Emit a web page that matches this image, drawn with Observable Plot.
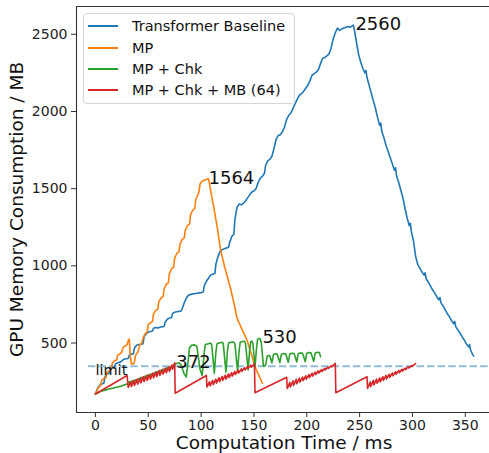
<!DOCTYPE html>
<html><head><meta charset="utf-8">
<script src="https://cdn.jsdelivr.net/npm/d3@7"></script>
<script src="https://cdn.jsdelivr.net/npm/@observablehq/plot@0.6"></script>
<style>
body{margin:0;background:#fff;}
#wrap{position:relative;width:489px;height:453px;font-family:"DejaVu Sans",sans-serif;overflow:hidden;}
#wrap svg{display:block;}
#legend{position:absolute;left:83px;top:13px;width:212px;height:91px;box-sizing:border-box;border:1px solid #d6d6d6;border-radius:4px;background:rgba(255,255,255,0.85);}
.lrow{position:absolute;left:0;height:0;}
.lline{position:absolute;left:4px;width:30px;height:2px;top:-1px;}
.ltext{position:absolute;left:48px;top:-9px;font-size:14.5px;line-height:18px;color:#111;white-space:nowrap;}
</style>
</head><body>
<div id="wrap"><div id="legend"></div></div>
<script>
// ---- data (time in ms, memory in MB) ----
const seriesNames = ["Transformer Baseline", "MP", "MP + Chk", "MP + Chk + MB (64)"];
const seriesColors = ["#1f77b4", "#ff7f0e", "#2ca02c", "#d62728"];

const baseline = [[0,170],[2,205],[4,225],[6,235],[8,240],[9,280],[11,300],[13,305],[14,340],[16,345],[18,340],[19,365],[21,372],[24,378],[27,395],[29,398],[31,400],[32,420],[34,428],[36,430],[37,470],[39,485],[41,490],[43,492],[45,495],[46,540],[48,560],[50,570],[52,575],[54,578],[55,595],[57,600],[59,598],[61,602],[63,605],[65,607],[66,635],[68,655],[70,660],[72,665],[73,690],[75,700],[77,703],[79,705],[81,708],[82,720],[84,760],[86,790],[88,810],[90,815],[92,818],[94,820],[96,822],[98,825],[100,826],[102,830],[103,870],[105,900],[107,920],[109,940],[111,945],[113,950],[114,1010],[116,1060],[118,1095],[120,1105],[122,1110],[124,1115],[126,1120],[127,1150],[129,1190],[131,1205],[132,1300],[134,1380],[136,1400],[138,1395],[140,1405],[142,1420],[144,1440],[146,1460],[148,1478],[150,1485],[152,1500],[154,1540],[156,1568],[158,1580],[160,1600],[161,1650],[163,1680],[165,1690],[167,1710],[169,1760],[171,1820],[173,1845],[175,1850],[177,1870],[179,1900],[181,1950],[183,1975],[185,1990],[187,2020],[189,2050],[191,2080],[193,2105],[195,2115],[197,2130],[199,2150],[201,2170],[203,2200],[205,2235],[207,2245],[209,2255],[211,2270],[213,2310],[215,2345],[217,2350],[219,2360],[221,2372],[223,2410],[225,2470],[227,2510],[229,2540],[231,2525],[233,2535],[235,2540],[237,2545],[239,2550],[241,2545],[243,2555],[244,2560],[245,2530],[247,2450],[249,2370],[251,2320],[253,2280],[255,2250],[256,2265],[257,2220],[259,2170],[261,2120],[263,2070],[265,2020],[267,1960],[269,1910],[270,1925],[271,1870],[273,1830],[275,1780],[277,1740],[279,1700],[281,1660],[283,1620],[284,1635],[285,1580],[287,1540],[289,1490],[291,1440],[293,1370],[295,1310],[297,1260],[298,1275],[299,1220],[301,1160],[303,1060],[305,1010],[307,985],[309,960],[311,940],[312,955],[313,915],[315,895],[317,870],[319,845],[321,825],[323,800],[325,780],[326,795],[327,760],[329,740],[331,715],[333,690],[335,670],[337,645],[339,625],[340,640],[341,605],[343,585],[345,565],[347,540],[349,520],[351,495],[353,475],[354,490],[355,455],[357,425],[358,415]];

const mp = [[0,170],[2,200],[3,215],[5,225],[6,260],[8,270],[10,275],[11,310],[13,320],[15,330],[16,370],[18,385],[20,390],[21,420],[23,430],[25,440],[26,470],[28,480],[30,490],[31,515],[32,525],[33,420],[34,365],[36,365],[37,380],[38,420],[40,440],[41,460],[42,490],[44,500],[45,530],[47,560],[49,570],[50,620],[52,630],[54,640],[55,690],[57,710],[59,720],[60,770],[62,790],[64,800],[65,850],[67,880],[69,890],[70,950],[72,980],[74,990],[75,1050],[77,1080],[79,1090],[80,1140],[82,1170],[84,1180],[85,1230],[87,1260],[89,1270],[90,1330],[92,1360],[94,1370],[95,1430],[97,1460],[98,1480],[99,1530],[101,1550],[103,1555],[105,1560],[107,1564],[108,1530],[110,1450],[112,1380],[114,1300],[116,1220],[118,1120],[120,1060],[122,1000],[124,950],[126,900],[128,850],[130,790],[132,730],[134,660],[136,630],[138,600],[140,570],[142,540],[144,510],[146,460],[148,420],[150,370],[152,330],[154,300],[156,270],[158,240]];

const mpChk = [[0,170],[3,180],[6,190],[9,195],[12,200],[15,205],[18,210],[21,215],[24,220],[27,228],[30,235],[32,250],[33,238],[35,256],[36,246],[38,262],[39,252],[41,270],[42,260],[44,278],[45,268],[47,286],[48,276],[50,294],[51,284],[53,300],[54,292],[56,308],[57,300],[59,316],[60,308],[62,324],[63,316],[65,332],[66,324],[68,340],[69,332],[71,348],[72,342],[74,358],[76,366],[79,372],[81,360],[84,300],[86,280],[88,400],[89,470],[91,485],[94,488],[96,478],[99,330],[101,290],[103,440],[104,490],[107,496],[109,500],[110,490],[112.5,305],[114,440],[115,495],[117,500],[120,505],[121,495],[123.5,312],[125,450],[126,500],[128,505],[131,506],[132,495],[134.5,318],[136,450],[137,505],[139,510],[141,512],[142,500],[144.5,325],[146,460],[147,508],[148,512],[149,500],[151,345],[152.5,470],[153.5,525],[155,530],[156,525],[157,500],[159,350],[161,355],[162.5,415],[164,420],[165,418],[167,372],[168.5,425],[170,430],[172,428],[174.5,374],[176,428],[178,432],[180,430],[182.5,376],[184,430],[186,434],[188,432],[190.5,378],[192,432],[194,436],[196,434],[198.5,380],[200,434],[202,438],[204,436],[206.5,382],[208,436],[210,440],[212,438],[213,412]];

const mpChkMb = [[0,170],[30,290],[31,212],[33.5,250],[34,218],[36.5,258],[37,226],[39.5,266],[40,234],[42.5,274],[43,242],[45.5,282],[46,250],[48.5,290],[49,258],[51.5,298],[52,266],[54.5,306],[55,274],[57.5,314],[58,282],[60.5,322],[61,290],[63.5,330],[64,298],[66.5,338],[67,306],[69.5,346],[70,316],[72.5,358],[73,330],[75,372],[75.5,175],[105,290],[105.5,215],[108,250],[108.5,222],[111,258],[111.5,230],[114,266],[114.5,240],[117,276],[117.5,250],[120,284],[120.5,258],[123,292],[123.5,266],[126,300],[126.5,276],[129,308],[129.5,286],[132,316],[132.5,296],[135,324],[135.5,306],[138,332],[138.5,316],[141,340],[141.5,326],[144,348],[144.5,336],[147,356],[147.5,344],[150.5,365],[151,178],[181,278],[181.5,205],[184,245],[184.5,215],[187,255],[187.5,225],[190,265],[190.5,236],[193,273],[193.5,246],[196,280],[196.5,256],[199,288],[199.5,266],[202,296],[202.5,276],[205,304],[205.5,286],[208,312],[208.5,296],[211,320],[211.5,306],[214,328],[214.5,316],[217,336],[217.5,326],[220,344],[220.5,336],[223,352],[223.5,346],[227,368],[227.5,178],[257,282],[257.5,205],[260,248],[260.5,218],[263,258],[263.5,228],[266,266],[266.5,238],[269,274],[269.5,248],[272,282],[272.5,258],[275,290],[275.5,268],[278,298],[278.5,278],[281,306],[281.5,288],[284,314],[284.5,298],[287,322],[287.5,308],[290,330],[290.5,318],[293,338],[293.5,328],[296,346],[296.5,338],[299,354],[299.5,348],[303,366]];

const peakLabels = ["2560", "1564", "372", "530"];
const peakTimes = [246, 107, 76.5, 158];
const peakValues = [2560, 1564, 372, 530];

const limitMB = 350;
const limitLabel = "limit";
const xTicks = [0, 50, 100, 150, 200, 250, 300, 350];
const yTicks = [500, 1000, 1500, 2000, 2500];
const xLabel = "Computation Time / ms";
const yLabel = "GPU Memory Consumption / MB";

// ---- build table ----
const seriesData = [baseline, mp, mpChk, mpChkMb];
const rows = seriesData.flatMap((arr, i) => arr.map(([t, mb]) => ({series: seriesNames[i], t, mb})));
const peaks = peakLabels.map((label, i) => ({label, t: peakTimes[i], mb: peakValues[i]}));

const xDomain = [-17.9, 372.9];
const yDomain = [50, 2680];
const spine = "#333";
const plain = d => String(d);

const chart = Plot.plot({
  width: 489, height: 453,
  marginLeft: 76, marginRight: 0, marginTop: 6, marginBottom: 41,
  x: {domain: xDomain},
  y: {domain: yDomain},
  color: {domain: seriesNames, range: seriesColors},
  style: {fontFamily: "DejaVu Sans", fontSize: "14px", color: "#222", background: "#fff"},
  marks: [
    Plot.ruleY([{y: limitMB, x1: -6.6, x2: xDomain[1]}], {y: "y", x1: "x1", x2: "x2", stroke: "#1f77b4", strokeOpacity: 0.5, strokeWidth: 2, strokeDasharray: "7.4,3.2"}),
    Plot.line(rows, {x: "t", y: "mb", z: "series", stroke: "series", strokeWidth: 1.6, strokeLinejoin: "round"}),
    Plot.text(peaks, {x: "t", y: "mb", text: "label", textAnchor: "start", lineAnchor: "bottom", dy: 5, fontSize: 18, fill: "#111"}),
    Plot.text([{t: 0, mb: 320, label: limitLabel}], {x: "t", y: "mb", text: "label", textAnchor: "start", lineAnchor: "bottom", dy: 4, fontSize: 14.5, fill: "#111"}),
    Plot.axisX({ticks: xTicks, tickFormat: plain, tickSize: 5, tickPadding: 3, fontSize: 14, label: null, stroke: spine}),
    Plot.axisY({ticks: yTicks, tickFormat: plain, tickSize: 5, tickPadding: 4, fontSize: 14, label: null, stroke: spine}),
    Plot.ruleX([xDomain[0]], {stroke: spine, strokeWidth: 1.1}),
    Plot.ruleY([yDomain[0]], {stroke: spine, strokeWidth: 1.1}),
    Plot.ruleY([yDomain[1]], {stroke: spine, strokeWidth: 1.1}),
    Plot.text([yLabel], {frameAnchor: "left", dx: -59, rotate: -90, textAnchor: "middle", lineAnchor: "middle", fontSize: 18.5, fill: "#111"}),
    Plot.text([xLabel], {frameAnchor: "bottom", dy: 31, dx: 1, textAnchor: "middle", lineAnchor: "middle", fontSize: 18.5, fill: "#111"})
  ]
});
document.getElementById("wrap").insertBefore(chart, document.getElementById("legend"));

// ---- legend ----
const legend = document.getElementById("legend");
const rowYs = [12, 33.7, 55.3, 76.3];
seriesNames.forEach((name, i) => {
  const r = document.createElement("div");
  r.className = "lrow";
  r.style.top = rowYs[i] + "px";
  const l = document.createElement("div");
  l.className = "lline";
  l.style.background = seriesColors[i];
  const t = document.createElement("div");
  t.className = "ltext";
  t.textContent = name;
  r.appendChild(l); r.appendChild(t);
  legend.appendChild(r);
});
</script>
</body></html>
